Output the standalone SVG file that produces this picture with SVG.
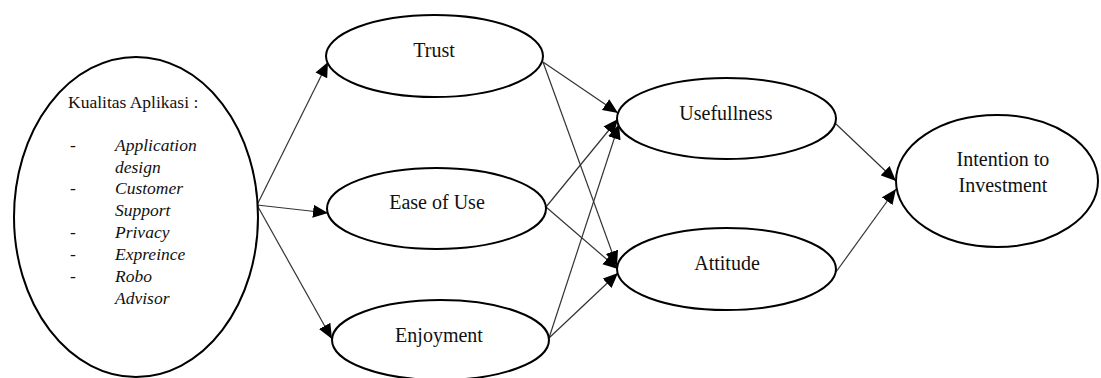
<svg xmlns="http://www.w3.org/2000/svg" width="1101" height="378" viewBox="0 0 1101 378">
  <style>
    .node { fill: #ffffff; stroke: #000000; stroke-width: 2; }
    .label { font-family: 'Liberation Serif', 'DejaVu Serif', 'Times New Roman', serif; font-size: 20px; fill: #111111; text-anchor: middle; }
    .list { font-family: 'Liberation Serif', 'DejaVu Serif', 'Times New Roman', serif; font-size: 17.5px; fill: #111111; }
    .item { font-style: italic; }
    .edge { stroke: #333333; stroke-width: 1.2; fill: none; marker-end: url(#arrow); }
  </style>
  <defs>
    <!-- solid triangular arrowhead shared by all connectors -->
    <marker id="arrow" markerUnits="userSpaceOnUse" markerWidth="16" markerHeight="14" refX="15" refY="7" orient="auto">
      <path d="M0,0.5 L15,7 L0,13.5 z" fill="#000000"/>
    </marker>
  </defs>
  <rect width="1101" height="378" fill="#ffffff"/>

  <!-- connectors -->
  <g id="connectors">
    <line class="edge" x1="257" y1="205" x2="328" y2="62"/>
    <line class="edge" x1="257" y1="205" x2="328" y2="213"/>
    <line class="edge" x1="257" y1="205" x2="332" y2="339"/>
    <line class="edge" x1="543" y1="62" x2="618" y2="113"/>
    <line class="edge" x1="543" y1="62" x2="617" y2="266"/>
    <line class="edge" x1="546" y1="207" x2="618" y2="119"/>
    <line class="edge" x1="546" y1="207" x2="618" y2="269"/>
    <line class="edge" x1="549" y1="338" x2="619" y2="124"/>
    <line class="edge" x1="549" y1="338" x2="618" y2="273"/>
    <line class="edge" x1="836" y1="124" x2="896" y2="181"/>
    <line class="edge" x1="836" y1="272" x2="896" y2="189"/>
  </g>

  <!-- Kualitas Aplikasi -->
  <g id="kualitas">
    <ellipse class="node" cx="136" cy="217" rx="122" ry="160"/>
    <text class="list" x="68" y="108">Kualitas Aplikasi :</text>
    <text class="list" x="70" y="151">-</text>
    <text class="list item" x="115" y="151">Application</text>
    <text class="list item" x="115" y="173">design</text>
    <text class="list" x="70" y="194">-</text>
    <text class="list item" x="115" y="194">Customer</text>
    <text class="list item" x="115" y="216">Support</text>
    <text class="list" x="70" y="238">-</text>
    <text class="list item" x="115" y="238">Privacy</text>
    <text class="list" x="70" y="260">-</text>
    <text class="list item" x="115" y="260">Expreince</text>
    <text class="list" x="70" y="282">-</text>
    <text class="list item" x="115" y="282">Robo</text>
    <text class="list item" x="115" y="304">Advisor</text>
  </g>

  <!-- Trust -->
  <g id="trust">
    <ellipse class="node" cx="434.5" cy="56" rx="108.5" ry="41"/>
    <text class="label" x="434" y="57">Trust</text>
  </g>

  <!-- Ease of Use -->
  <g id="ease-of-use">
    <ellipse class="node" cx="436.5" cy="208.5" rx="109.5" ry="40.5"/>
    <text class="label" x="437" y="209">Ease of Use</text>
  </g>

  <!-- Enjoyment -->
  <g id="enjoyment">
    <ellipse class="node" cx="440.5" cy="340" rx="108.5" ry="40"/>
    <text class="label" x="439" y="342">Enjoyment</text>
  </g>

  <!-- Usefullness -->
  <g id="usefullness">
    <ellipse class="node" cx="726.5" cy="118.5" rx="109.5" ry="40.5"/>
    <text class="label" x="726" y="120">Usefullness</text>
  </g>

  <!-- Attitude -->
  <g id="attitude">
    <ellipse class="node" cx="726.5" cy="269" rx="109.5" ry="41"/>
    <text class="label" x="727" y="270">Attitude</text>
  </g>

  <!-- Intention to Investment -->
  <g id="intention">
    <ellipse class="node" cx="997" cy="181" rx="101" ry="66"/>
    <text class="label" x="1003" y="166">Intention to</text>
    <text class="label" x="1003" y="192">Investment</text>
  </g>
</svg>
